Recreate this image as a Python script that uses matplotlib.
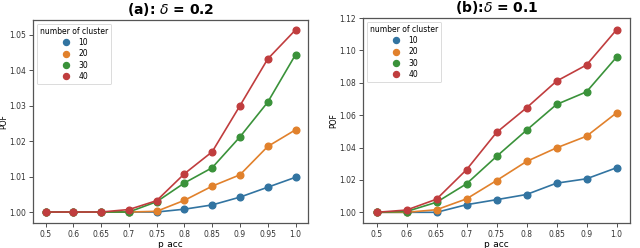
import matplotlib
matplotlib.use("Agg")
import matplotlib.pyplot as plt

p_acc_a = ["0.5", "0.6", "0.65", "0.7", "0.75", "0.8", "0.85", "0.9", "0.95", "1.0"]
a_10 = [1.0, 1.0, 1.0, 1.0, 1.0, 1.0008, 1.002, 1.0042, 1.007, 1.0098]
a_20 = [1.0, 1.0, 1.0, 1.0, 1.0002, 1.0033, 1.0073, 1.0105, 1.0185, 1.0232]
a_30 = [1.0, 1.0, 1.0, 1.0, 1.0029, 1.0082, 1.0125, 1.0212, 1.031, 1.0444]
a_40 = [1.0, 1.0, 1.0, 1.0007, 1.0032, 1.0108, 1.017, 1.030, 1.0432, 1.0514]

p_acc_b = ["0.5", "0.6", "0.65", "0.7", "0.75", "0.8", "0.85", "0.9", "1.0"]
b_10 = [1.0, 1.0, 1.0, 1.0047, 1.0078, 1.011, 1.018, 1.0207, 1.0275]
b_20 = [1.0, 1.0, 1.0016, 1.0083, 1.0196, 1.0314, 1.0398, 1.047, 1.0614]
b_30 = [1.0, 1.0005, 1.0062, 1.0176, 1.0345, 1.0507, 1.0666, 1.0744, 1.0958]
b_40 = [1.0, 1.0014, 1.0081, 1.0263, 1.0493, 1.0645, 1.081, 1.091, 1.1127]

clusters = ["10", "20", "30", "40"]
colors = ["#3274a1", "#e1812c", "#3a923a", "#c03d3e"]

fig = plt.figure(figsize=(6.4, 2.48), dpi=100)
ax1 = fig.add_axes([33/640, 1-223/248, 275/640, 203/248])
ax2 = fig.add_axes([363/640, 1-223/248, 267/640, 205/248])

def draw(ax, cats, series, title, ylim, yticks, yfmt):
    xs = list(range(len(cats)))
    for name, vals, c in zip(clusters, series, colors):
        ax.plot(xs, vals, color=c, lw=1.2, marker="o", ms=4.8, label=name)
    ax.set_xticks(xs)
    ax.set_xticklabels(cats)
    ax.set_xlim(-0.45, len(cats) - 0.55)
    ax.set_ylim(*ylim)
    ax.set_yticks(yticks)
    ax.set_yticklabels([yfmt.format(v) for v in yticks])
    ax.tick_params(labelsize=5.5, length=3, width=0.6, pad=2, colors="#333333")
    for s in ax.spines.values():
        s.set_color("#555555")
        s.set_linewidth(0.9)
    ax.set_xlabel("p_acc", fontsize=6.5, labelpad=1)
    ax.set_ylabel("POF", fontsize=5.5, labelpad=1)
    ax.set_title(title, fontsize=10, fontweight="bold", pad=4)
    leg = ax.legend(title="number of cluster", loc="upper left", fontsize=5.5,
                    title_fontsize=5.5, handlelength=1.6, frameon=True,
                    borderpad=0.4, labelspacing=0.3, markerscale=0.9)
    for h in leg.legend_handles:
        h.set_linestyle("")
    leg.get_frame().set_linewidth(0.6)

draw(ax1, p_acc_a, [a_10, a_20, a_30, a_40], r"(a): $\delta$ = 0.2",
     (0.9969, 1.0542), [1.00, 1.01, 1.02, 1.03, 1.04, 1.05], "{:.2f}")
draw(ax2, p_acc_b, [b_10, b_20, b_30, b_40], r"(b):$\delta$ = 0.1",
     (0.9934, 1.12), [1.00, 1.02, 1.04, 1.06, 1.08, 1.10, 1.12], "{:.2f}")

fig.savefig("out.png", dpi=100)
